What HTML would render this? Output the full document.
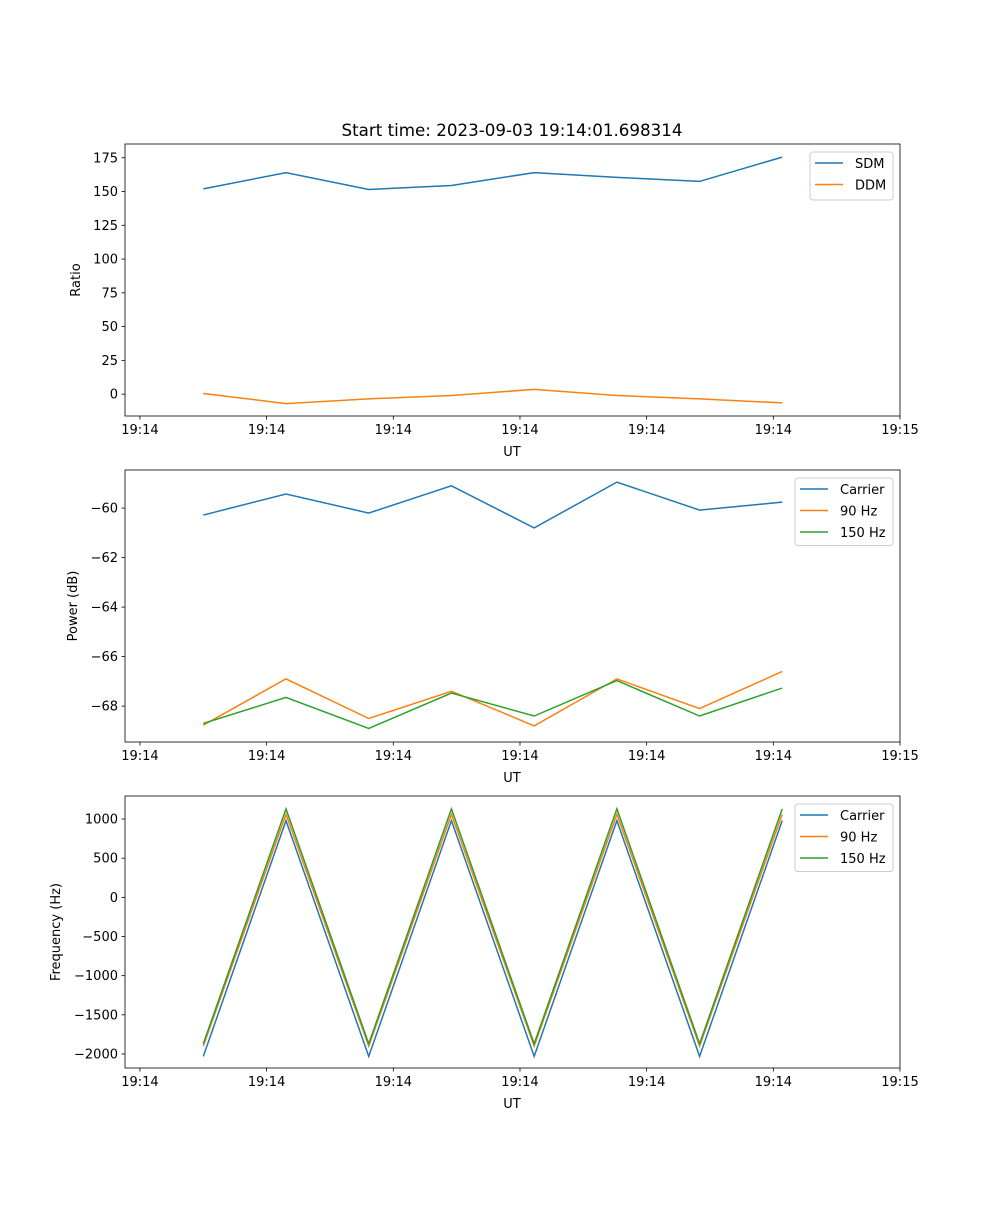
<!DOCTYPE html>
<html><head><meta charset="utf-8">
<style>
body{margin:0;background:#fff;}
svg text{font-family:"DejaVu Sans","Liberation Sans",sans-serif;fill:#000;}
</style></head>
<body>
<svg id="chart" width="1000" height="1200" xmlns="http://www.w3.org/2000/svg">
<rect width="1000" height="1200" fill="#fff"/>
<text x="512" y="136" font-size="16.7" text-anchor="middle">Start time: 2023-09-03 19:14:01.698314</text>
</svg>
<script>
const times = [5.0, 11.53, 18.06, 24.59, 31.12, 37.65, 44.18, 50.7];
const xTickValues = [0, 10, 20, 30, 40, 50, 60];
const xTickLabels = ["19:14","19:14","19:14","19:14","19:14","19:14","19:15"];
const sdm = [152, 164, 151.5, 154.5, 164, 160.5, 157.5, 175.5];
const ddm = [0.5, -7, -3.5, -1, 3.5, -1, -3.5, -6.5];
const powCarrier = [-60.28, -59.43, -60.2, -59.1, -60.8, -58.95, -60.08, -59.76];
const pow90 = [-68.77, -66.9, -68.5, -67.4, -68.8, -66.9, -68.1, -66.6];
const pow150 = [-68.7, -67.65, -68.9, -67.47, -68.4, -66.97, -68.4, -67.27];
const freqCarrier = [-2030, 980, -2030, 980, -2030, 980, -2030, 980];
const freq90 = [-1900, 1060, -1900, 1060, -1900, 1060, -1900, 1060];
const freq150 = [-1870, 1130, -1870, 1130, -1870, 1130, -1870, 1130];
const ratioTicks = [0, 25, 50, 75, 100, 125, 150, 175];
const powerTicks = [-68, -66, -64, -62, -60];
const freqTicks = [-2000, -1500, -1000, -500, 0, 500, 1000];

const NS = "http://www.w3.org/2000/svg";
const svg = document.getElementById('chart');
const L = 125, R = 900;
const xDomain = [-1.18, 60];
function xs(t){ return L + (t - xDomain[0]) / (xDomain[1] - xDomain[0]) * (R - L); }
function mk(tag, attrs, parent){
  const e = document.createElementNS(NS, tag);
  for (const k in attrs) e.setAttribute(k, attrs[k]);
  (parent || svg).appendChild(e);
  return e;
}
const colors = {blue:"#1f77b4", orange:"#ff7f0e", green:"#2ca02c"};

function panel(name, top, bottom, yDomain, yTicks, ylabel, ylabelX, series, legend){
  const g = mk('g', {});
  
  
  const ys = v => bottom - (v - yDomain[0]) / (yDomain[1] - yDomain[0]) * (bottom - top);
  series.forEach(s => {
    const pts = times.map((t, i) => xs(t).toFixed(2) + "," + ys(s.values[i]).toFixed(2)).join(" ");
    const pl = mk('polyline', {points: pts, fill: "none", stroke: s.color, "stroke-width": 1.5}, g);
    
    
  });
  const fr = mk('rect', {x: L, y: top, width: R - L, height: bottom - top, fill: "none", stroke: "#000", "stroke-width": 0.8}, g);
  
  
  xTickValues.forEach((v, i) => {
    const x = xs(v);
    mk('line', {x1: x, x2: x, y1: bottom, y2: bottom + 3.5, stroke: "#000", "stroke-width": 0.8}, g);
    const t = mk('text', {x: x, y: bottom + 18, "font-size": 13, "text-anchor": "middle"}, g);
    t.textContent = xTickLabels[i];
    
    
  });
  const xl = mk('text', {x: 512, y: bottom + 40, "font-size": 13, "text-anchor": "middle"}, g);
  xl.textContent = "UT";
  
  
  yTicks.forEach(v => {
    const y = ys(v);
    mk('line', {x1: L - 3.5, x2: L, y1: y, y2: y, stroke: "#000", "stroke-width": 0.8}, g);
    const t = mk('text', {x: L - 7, y: y + 4.5, "font-size": 13, "text-anchor": "end"}, g);
    t.textContent = v < 0 ? "\u2212" + Math.abs(v) : String(v);
    
    
  });
  const yc = (top + bottom) / 2;
  const yl = mk('text', {x: ylabelX, y: yc, "font-size": 13, "text-anchor": "middle", transform: `rotate(-90 ${ylabelX} ${yc})`}, g);
  yl.textContent = ylabel;
  
  
  const lg = mk('g', {}, g);
  
  
  const lh = 9 + series.length * 19.5;
  mk('rect', {x: legend.x, y: top + 8, width: legend.w, height: lh, rx: 3, fill: "#fff", "fill-opacity": 0.8, stroke: "#ccc", "stroke-width": 1}, lg);
  series.forEach((s, i) => {
    const y = top + 8 + 11 + i * 21.5;
    const ln = mk('line', {x1: legend.x + 5, x2: legend.x + 33, y1: y, y2: y, stroke: s.color, "stroke-width": 1.5}, lg);
    
    
    const t = mk('text', {x: legend.x + 45, y: y + 5, "font-size": 13}, lg);
    t.textContent = s.label;
    
    
  });
}

panel('ratio', 144, 416, [-16.2, 185.2], ratioTicks, "Ratio", 80,
  [{key:"sdm", label:"SDM", color:colors.blue, values:sdm},
   {key:"ddm", label:"DDM", color:colors.orange, values:ddm}],
  {x: 810, w: 83});
panel('power', 470, 742, [-69.45, -58.46], powerTicks, "Power (dB)", 77,
  [{key:"carrier", label:"Carrier", color:colors.blue, values:powCarrier},
   {key:"90hz", label:"90 Hz", color:colors.orange, values:pow90},
   {key:"150hz", label:"150 Hz", color:colors.green, values:pow150}],
  {x: 795, w: 98});
panel('frequency', 796, 1068, [-2179, 1294], freqTicks, "Frequency (Hz)", 60,
  [{key:"carrier", label:"Carrier", color:colors.blue, values:freqCarrier},
   {key:"90hz", label:"90 Hz", color:colors.orange, values:freq90},
   {key:"150hz", label:"150 Hz", color:colors.green, values:freq150}],
  {x: 795, w: 98});
</script>
</body></html>
